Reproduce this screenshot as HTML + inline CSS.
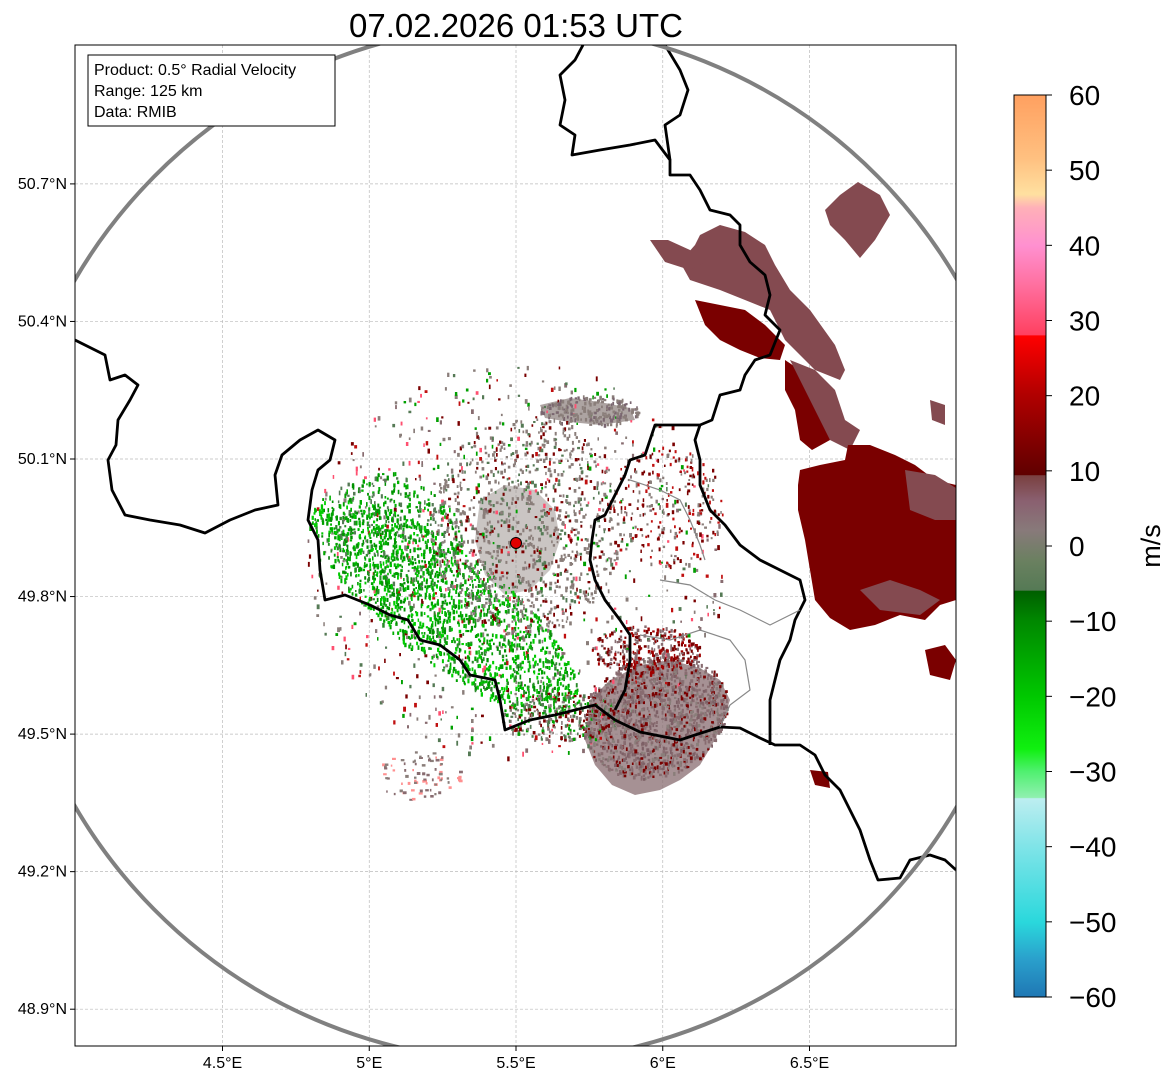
<!DOCTYPE html>
<html><head><meta charset="utf-8"><style>
html,body{margin:0;padding:0;background:#fff;}
svg{display:block;font-family:"Liberation Sans","DejaVu Sans",sans-serif;}
</style></head><body>
<svg id="fig" width="1171" height="1081" viewBox="0 0 1171 1081">
<defs>
<clipPath id="plotclip"><rect x="75" y="45" width="881" height="1001"/></clipPath>
<linearGradient id="cbar" x1="0" y1="1" x2="0" y2="0">
<stop offset="0" stop-color="#1f77b4"/><stop offset="0.042" stop-color="#2aa0cc"/>
<stop offset="0.083" stop-color="#2ad8dc"/><stop offset="0.167" stop-color="#80e4e8"/>
<stop offset="0.22" stop-color="#bdeef0"/><stop offset="0.221" stop-color="#90f0b0"/>
<stop offset="0.25" stop-color="#50f070"/><stop offset="0.275" stop-color="#10f010"/>
<stop offset="0.333" stop-color="#00c800"/><stop offset="0.417" stop-color="#008800"/>
<stop offset="0.45" stop-color="#005f00"/><stop offset="0.451" stop-color="#557a55"/>
<stop offset="0.483" stop-color="#6a8060"/><stop offset="0.517" stop-color="#887a7a"/>
<stop offset="0.55" stop-color="#8a6070"/><stop offset="0.578" stop-color="#7a4040"/>
<stop offset="0.579" stop-color="#600000"/><stop offset="0.667" stop-color="#b00000"/>
<stop offset="0.733" stop-color="#ff0000"/><stop offset="0.734" stop-color="#ff4060"/>
<stop offset="0.79" stop-color="#ff70a0"/><stop offset="0.833" stop-color="#ff90d0"/>
<stop offset="0.875" stop-color="#ffb0b8"/><stop offset="0.89" stop-color="#ffe0a0"/>
<stop offset="0.93" stop-color="#ffc080"/><stop offset="1" stop-color="#ffa060"/>
</linearGradient>
</defs>
<text x="516" y="37" text-anchor="middle" font-size="33">07.02.2026 01:53 UTC</text>
<g id="grid"></g>
<g id="echoes" clip-path="url(#plotclip)"></g>
<g id="borders" clip-path="url(#plotclip)"></g>
<ellipse cx="516" cy="543" rx="512" ry="518" fill="none" stroke="#808080" stroke-width="4" clip-path="url(#plotclip)"/>
<circle cx="516" cy="543" r="5.5" fill="#e00000" stroke="#000" stroke-width="1"/>
<rect x="75" y="45" width="881" height="1001" fill="none" stroke="#000" stroke-width="1"/>
<g id="ticks"></g>
<g>
<rect x="88" y="55" width="247" height="71" fill="#fff" stroke="#000" stroke-width="1"/>
<text x="94" y="75" font-size="16">Product: 0.5° Radial Velocity</text>
<text x="94" y="96" font-size="16">Range: 125 km</text>
<text x="94" y="117" font-size="16">Data: RMIB</text>
</g>
<g>
<rect x="1014" y="95" width="32" height="902" fill="url(#cbar)" stroke="#000" stroke-width="1"/>
<g id="cbticks"></g>
<text x="0" y="0" font-size="27" transform="translate(1160,546) rotate(-90)" text-anchor="middle">m/s</text>
</g>
</svg>
<script>
const NS="http://www.w3.org/2000/svg";
const lonTicks=[4.5,5,5.5,6,6.5];
const latTicks=[50.7,50.4,50.1,49.8,49.5,49.2,48.9];
const cbTicks=[-60,-50,-40,-30,-20,-10,0,10,20,30,40,50,60];
function xLon(l){return 516+(l-5.5)*293.5;}
function yLat(l){return 459-(l-50.1)*458.5;}
function yV(v){return 997-(v+60)*(902/120);}
function mk(t,a,p){const e=document.createElementNS(NS,t);for(const k in a)e.setAttribute(k,a[k]);(p||document.getElementById('fig')).appendChild(e);return e;}
const grid=document.getElementById('grid'),ticks=document.getElementById('ticks');
lonTicks.forEach(l=>{const x=xLon(l);
 const g=mk('line',{x1:x,x2:x,y1:45,y2:1046,stroke:'#bbb','stroke-width':0.7,'stroke-dasharray':'3,2'},grid);
 
 mk('line',{x1:x,x2:x,y1:1046,y2:1051,stroke:'#000'},ticks);
 const t=mk('text',{x:x,y:1068,'font-size':16,'text-anchor':'middle'},ticks);t.textContent=l+'°E';
 });
latTicks.forEach(l=>{const y=yLat(l);
 const g=mk('line',{x1:75,x2:956,y1:y,y2:y,stroke:'#bbb','stroke-width':0.7,'stroke-dasharray':'3,2'},grid);
 
 mk('line',{x1:70,x2:75,y1:y,y2:y,stroke:'#000'},ticks);
 const t=mk('text',{x:67,y:y+5,'font-size':16,'text-anchor':'end'},ticks);t.textContent=l.toFixed(1)+'°N';
 });
const cbt=document.getElementById('cbticks');
cbTicks.forEach(v=>{const y=yV(v);mk('line',{x1:1046,x2:1052,y1:y,y2:y,stroke:'#000'},cbt);
 const t=mk('text',{x:1069,y:y+10,'font-size':28},cbt);t.textContent=(v<0?'\u2212'+(-v):''+v);
 });

const ech=document.getElementById('echoes');
// semi-solid base areas
const bases=[
 ['#886c70',0.75,'590,700 610,680 640,665 670,660 700,668 720,680 730,700 722,725 712,745 700,765 680,780 660,790 635,795 612,785 595,765 585,740'],
 ['#8a7e7a',0.45,'480,500 505,485 535,490 555,510 560,540 550,570 530,590 505,595 485,575 475,540'],
 ['#8a7e7a',0.7,'540,405 570,398 600,402 630,408 635,420 600,425 570,422 545,418']
];
bases.forEach(b=>{const p=mk('polygon',{points:b[2],fill:b[0],'fill-opacity':b[1]},ech);
 });
// cx,cy,rx,ry,angleDeg,count,colors,maxW,maxH
const speckle=[
 [516,560,210,200,0,900,['#8a7e7a','#7a0000','#8a7e7a','#557a55','#00a000','#886c70','#c01010','#ff5070'],3,5],
 [445,605,165,55,38,1600,['#00b000','#009000','#00c800','#00a000','#2a8a2a','#00d000'],2.5,5],
 [395,530,70,55,30,400,['#00b000','#009000','#00a000','#557a55'],2.5,5],
 [525,525,95,110,0,900,['#8a7e7a','#8a7e7a','#8a7e7a','#7a0000','#557a55'],3,4],
 [590,410,50,15,0,200,['#8a7e7a','#8a7e7a','#7a6670'],3,4],
 [560,715,60,25,0,250,['#557a55','#8a7e7a','#00a000','#7a0000'],3,4],
 [655,715,75,60,-25,1400,['#886c70','#7d6066','#886c70','#7a0000','#8a7e7a'],3,4],
 [645,650,55,25,0,300,['#7a0000','#a00000','#886c70'],3,4],
 [420,775,45,25,0,80,['#886c70','#8a7e7a','#ff9090'],4,3],
 [665,505,60,60,0,200,['#7a0000','#8a7e7a','#c01010'],2.5,4]
];
let s=12345;function rnd(){s=(s*1103515245+12345)%2147483648;return s/2147483648;}
speckle.forEach(r=>{const th=r[4]*Math.PI/180,c=Math.cos(th),sn=Math.sin(th);
 for(let i=0;i<r[5];i++){const a=rnd()*6.283,d=Math.sqrt(rnd());
 const u=Math.cos(a)*d*r[2],v=Math.sin(a)*d*r[3];
 const x=r[0]+u*c-v*sn,y=r[1]+u*sn+v*c;
 const w=1.5+rnd()*(r[7]-1.5),h=2+rnd()*(r[8]-2);
 mk('rect',{x:x.toFixed(1),y:y.toFixed(1),width:w.toFixed(1),height:h.toFixed(1),fill:r[6][Math.floor(rnd()*r[6].length)]},ech);}});

const blobs=[
 ['#844a50','700,235 720,225 745,232 765,245 775,265 790,290 810,310 835,345 845,370 840,380 815,370 800,355 785,340 770,310 745,300 720,290 690,280 680,262 695,245'],
 ['#844a50','825,210 840,195 858,182 880,195 890,215 875,240 860,258 845,240 830,225'],
 ['#844a50','650,240 668,240 690,250 705,262 690,270 665,262'],
 ['#7a0000','695,300 720,305 745,310 765,325 785,345 780,360 760,358 740,350 720,340 705,325'],
 ['#7a0000','785,360 800,370 815,390 825,410 830,440 812,450 800,440 795,410 785,390'],
 ['#844a50','790,360 815,370 835,390 845,420 860,430 850,450 830,440 815,410'],
 ['#7a0000','800,470 820,465 845,460 848,445 870,445 895,455 915,465 935,480 956,485 956,600 940,605 925,620 900,615 875,625 850,630 830,618 815,600 810,570 805,540 798,510 798,485'],
 ['#844a50','905,470 935,475 956,488 956,520 935,520 910,510'],
 ['#844a50','860,590 890,580 920,590 940,600 920,615 880,610'],
 ['#7a0000','925,650 945,645 956,660 950,680 930,675'],
 ['#844a50','930,400 945,405 945,425 932,420'],
 ['#7a0000','810,770 828,772 830,788 815,785']
];
blobs.forEach(b=>{const p=mk('polygon',{points:b[1],fill:b[0]},ech);
 });

const bd=document.getElementById('borders');
const lines=[
 '75,340 105,355 110,380 125,375 138,385 130,400 118,420 116,445 108,460 112,490 125,515 150,520 180,525 205,533 230,520 255,510 278,505 275,475 282,455 300,440 318,430 335,440 330,460 318,470 312,490 308,520 318,540 320,570 325,600 345,595 370,605 390,615 408,620 420,640 440,645 460,660 470,675 495,680 500,700 505,730 530,720 555,715 575,710 595,705 615,720 640,732 680,740 695,735 720,727 740,728 760,738 775,745 800,745 815,755 825,775 840,790 850,810 860,830 870,860 878,880 900,878 910,860 930,855 945,860 956,870',
 '583,45 575,60 560,75 565,100 560,125 575,135 572,155 600,150 630,145 655,140 670,160 670,175 690,175 700,190 710,210 730,215 740,225 740,245 750,262 765,275 770,295 765,315 780,330 770,355 755,360 745,375 740,390 720,395 712,420 700,425 675,425 655,425 650,440 645,455 630,460 625,475 615,495 605,515 595,520 592,540 590,560 595,580 605,600 620,620 630,635 630,660 625,690 615,710',
 '665,45 680,70 688,90 680,115 665,125 670,160',
 '700,425 695,440 700,460 700,485 710,510 725,525 740,545 760,560 780,570 800,580 805,600 795,620 790,640 780,660 775,680 770,700 770,745'
];
lines.forEach(l=>{const p=mk('polyline',{points:l,fill:'none',stroke:'#000','stroke-width':2.8,'stroke-linejoin':'round'},bd);
 });
const thin=['630,480 660,490 680,500 690,520 700,545 705,560','660,580 690,585 715,600 740,610 770,625 800,610','640,635 670,640 700,630 730,640 745,660 750,690 730,705 720,727'];
thin.forEach(l=>{const p=mk('polyline',{points:l,fill:'none',stroke:'#888','stroke-width':1.2},bd);
 });
</script>
</body></html>
